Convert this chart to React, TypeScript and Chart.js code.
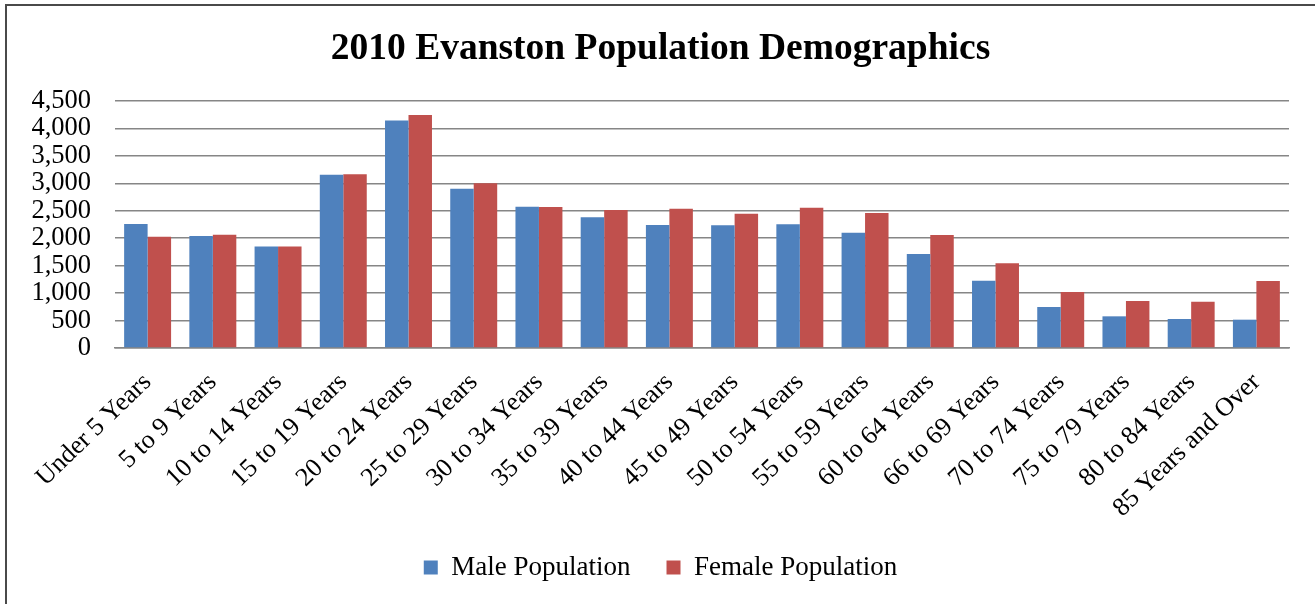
import React, { useEffect, useRef } from "react";
import { Chart, registerables } from "chart.js";

Chart.register(...registerables);

const categories: string[] = [
  "Under 5 Years",
  "5 to 9 Years",
  "10 to 14 Years",
  "15 to 19 Years",
  "20 to 24 Years",
  "25 to 29 Years",
  "30 to 34 Years",
  "35 to 39 Years",
  "40 to 44 Years",
  "45 to 49 Years",
  "50 to 54 Years",
  "55 to 59 Years",
  "60 to 64 Years",
  "66 to 69 Years",
  "70 to 74 Years",
  "75 to 79 Years",
  "80 to 84 Years",
  "85 Years and Over",
];

const malePopulation: number[] = [
  2259, 2041, 1851, 3158, 4147, 2903, 2575, 2381, 2241, 2235, 2253, 2101, 1713,
  1227, 747, 577, 528, 516,
];

const femalePopulation: number[] = [
  2028, 2064, 1851, 3164, 4245, 3000, 2569, 2514, 2538, 2447, 2557, 2460, 2059,
  1543, 1020, 856, 844, 1221,
];

const seriesNames: string[] = ["Male Population", "Female Population"];
const chartTitle = "2010 Evanston Population Demographics";
const yMin = 0;
const yMax = 4500;
const yStep = 500;

const SERIF = '"Liberation Serif", "Times New Roman", serif';

export default function App() {
  const canvasRef = useRef<HTMLCanvasElement | null>(null);

  useEffect(() => {
    if (!canvasRef.current) return;
    const zeroSidePadding = (scale: any) => {
      scale.paddingLeft = 0;
      scale.paddingRight = 0;
    };
    const chart = new Chart(canvasRef.current, {
      type: "bar",
      data: {
        labels: categories,
        datasets: [
          {
            label: seriesNames[0],
            data: malePopulation,
            backgroundColor: "#4F81BD",
            borderWidth: 0,
            categoryPercentage: 0.72,
            barPercentage: 1.0,
          },
          {
            label: seriesNames[1],
            data: femalePopulation,
            backgroundColor: "#C0504D",
            borderWidth: 0,
            categoryPercentage: 0.72,
            barPercentage: 1.0,
          },
        ],
      },
      options: {
        responsive: false,
        animation: false,
        layout: { padding: { left: 32, right: 26, top: 0, bottom: 13 } },
        plugins: {
          title: {
            display: true,
            text: chartTitle,
            color: "#000",
            font: { family: SERIF, size: 37.5, weight: "bold" },
            padding: { top: 26.5, bottom: 29.5 },
          },
          legend: {
            display: true,
            position: "bottom",
            labels: {
              color: "#000",
              font: { family: SERIF, size: 27 },
              boxWidth: 14,
              boxHeight: 14,
              padding: 36,
            },
          },
          tooltip: { enabled: false },
        },
        scales: {
          x: {
            grid: { display: false, drawTicks: false },
            border: { display: true, color: "#868686", width: 1.5 },
            ticks: {
              autoSkip: false,
              maxRotation: 44,
              minRotation: 44,
              padding: 19,
              color: "#000",
              font: { family: SERIF, size: 26 },
            },
            afterFit: (scale: any) => {
              zeroSidePadding(scale);
              scale.height = 170;
            },
            afterUpdate: zeroSidePadding,
          },
          y: {
            min: yMin,
            max: yMax,
            grid: { color: "#868686", lineWidth: 1.5, drawTicks: false },
            border: { display: false },
            ticks: {
              stepSize: yStep,
              autoSkip: false,
              padding: 24,
              color: "#000",
              font: { family: SERIF, size: 26.5 },
              callback: (v: any) => Number(v).toLocaleString("en-US"),
            },
            afterFit: (scale: any) => {
              scale.width = 83;
            },
          },
        },
      },
    });
    return () => chart.destroy();
  }, []);

  return (
    <div
      style={{
        position: "fixed",
        left: 0,
        top: 0,
        width: 1315,
        height: 604,
        overflow: "hidden",
        background: "#fff",
      }}
    >
      <canvas
        ref={canvasRef}
        width={1315}
        height={604}
        style={{ position: "absolute", left: 0, top: 0 }}
      />
      <div
        style={{
          position: "absolute",
          left: 5,
          top: 4,
          width: 1400,
          height: 700,
          border: "2px solid #4a4a4a",
          pointerEvents: "none",
        }}
      />
    </div>
  );
}
